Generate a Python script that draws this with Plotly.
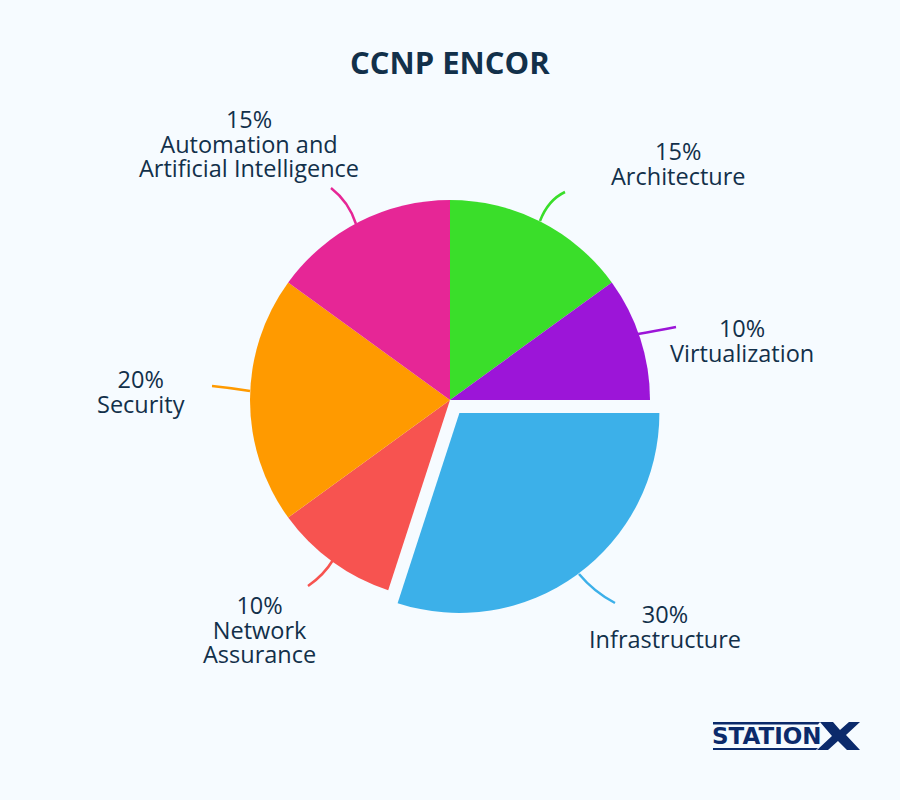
import plotly.graph_objects as go

labels = ["Architecture", "Virtualization", "Infrastructure", "Network Assurance", "Security", "Automation and Artificial Intelligence"]
values = [15, 10, 30, 10, 20, 15]
colors = ["#3ade2a", "#9c15d8", "#3cb0e9", "#f75350", "#ff9a00", "#e62696"]
pull = [0, 0, 0.08, 0, 0, 0]
text_color = "#12304a"
bg = "#f6fbff"
logo_color = "#0b2a6b"
W, H = 900, 800
FONT = "Open Sans"

label_lines = [
    ["15%", "Architecture"],
    ["10%", "Virtualization"],
    ["30%", "Infrastructure"],
    ["10%", "Network", "Assurance"],
    ["20%", "Security"],
    ["15%", "Automation and", "Artificial Intelligence"],
]
label_x = [678, 742, 665, 259, 141, 249]
label_center_y = [163.5, 340.5, 626.5, 629, 391.5, 144]

leaders = [
    [(540, 221), (548, 200), (565, 192)],
    [(638, 334), (655, 331), (676, 327)],
    [(579, 574), (594, 592), (615, 603)],
    [(333, 560), (324, 575), (308, 586)],
    [(250, 391), (232, 388), (212, 386)],
    [(356, 224), (349, 202), (331, 188)],
]

def px(x, y):
    return f"{x / W:.5f} {1 - y / H:.5f}"

def poly(points):
    return "M " + " L ".join(px(x, y) for x, y in points) + " Z"

fig = go.Figure(go.Pie(
    labels=labels, values=values, sort=False, direction="clockwise", rotation=0,
    marker=dict(colors=colors, line=dict(width=0)), pull=pull, textinfo="none",
    hoverinfo="label+percent",
    domain=dict(x=[(450 - 216) / W, (450 + 216) / W], y=[1 - (400 + 216) / H, 1 - (400 - 216) / H]),
    showlegend=False,
))

shapes = []
for pts, c in zip(leaders, colors):
    a, b, d = pts
    shapes.append(dict(type="path", path=f"M {px(*a)} Q {px(*b)} {px(*d)}",
                       line=dict(color=c, width=2.5), xref="paper", yref="paper"))

# StationX logo: rules above and below the word, and the large X
logo_shapes = [
    [(713, 722), (820, 722), (818, 724.5), (713, 724.5)],
    [(713, 748), (818, 748), (816, 750), (713, 750)],
    [(820, 722), (833, 722), (840, 730), (849, 722), (860, 722), (846, 735), (860, 750),
     (847, 750), (838, 741), (828, 750), (817, 750), (832, 736)],
]
for pts in logo_shapes:
    shapes.append(dict(type="path", path=poly(pts), fillcolor=logo_color,
                       line=dict(width=0), xref="paper", yref="paper"))

# the small base font sets the line spacing (about 25 px); the span sets the glyph size
annotations = []
for lines, x, yc in zip(label_lines, label_x, label_center_y):
    text = "<br>".join(f'<span style="font-size:23.5px">{line}</span>' for line in lines)
    annotations.append(dict(text=text, x=x / W, y=1 - yc / H,
                            xref="paper", yref="paper", showarrow=False,
                            xanchor="center", yanchor="middle", align="center",
                            font=dict(size=19, color=text_color, family=FONT)))
annotations.append(dict(text="<b>CCNP ENCOR</b>", x=0.5, y=1 - 61.5 / H, xref="paper", yref="paper",
                        showarrow=False, xanchor="center", yanchor="middle",
                        font=dict(size=31, color=text_color, family=FONT)))
annotations.append(dict(text="<b>STATION</b>", x=767 / W, y=1 - 736 / H, xref="paper", yref="paper",
                        showarrow=False, xanchor="center", yanchor="middle",
                        font=dict(size=23, color=logo_color, family="DejaVu Sans")))

fig.update_layout(width=W, height=H, margin=dict(l=0, r=0, t=0, b=0), paper_bgcolor=bg,
                  shapes=shapes, annotations=annotations)
fig.write_html("out.html", config=dict(displayModeBar=False),
               post_script="document.body.style.margin='0';document.body.style.background='#f6fbff';document.body.style.overflow='hidden';")
